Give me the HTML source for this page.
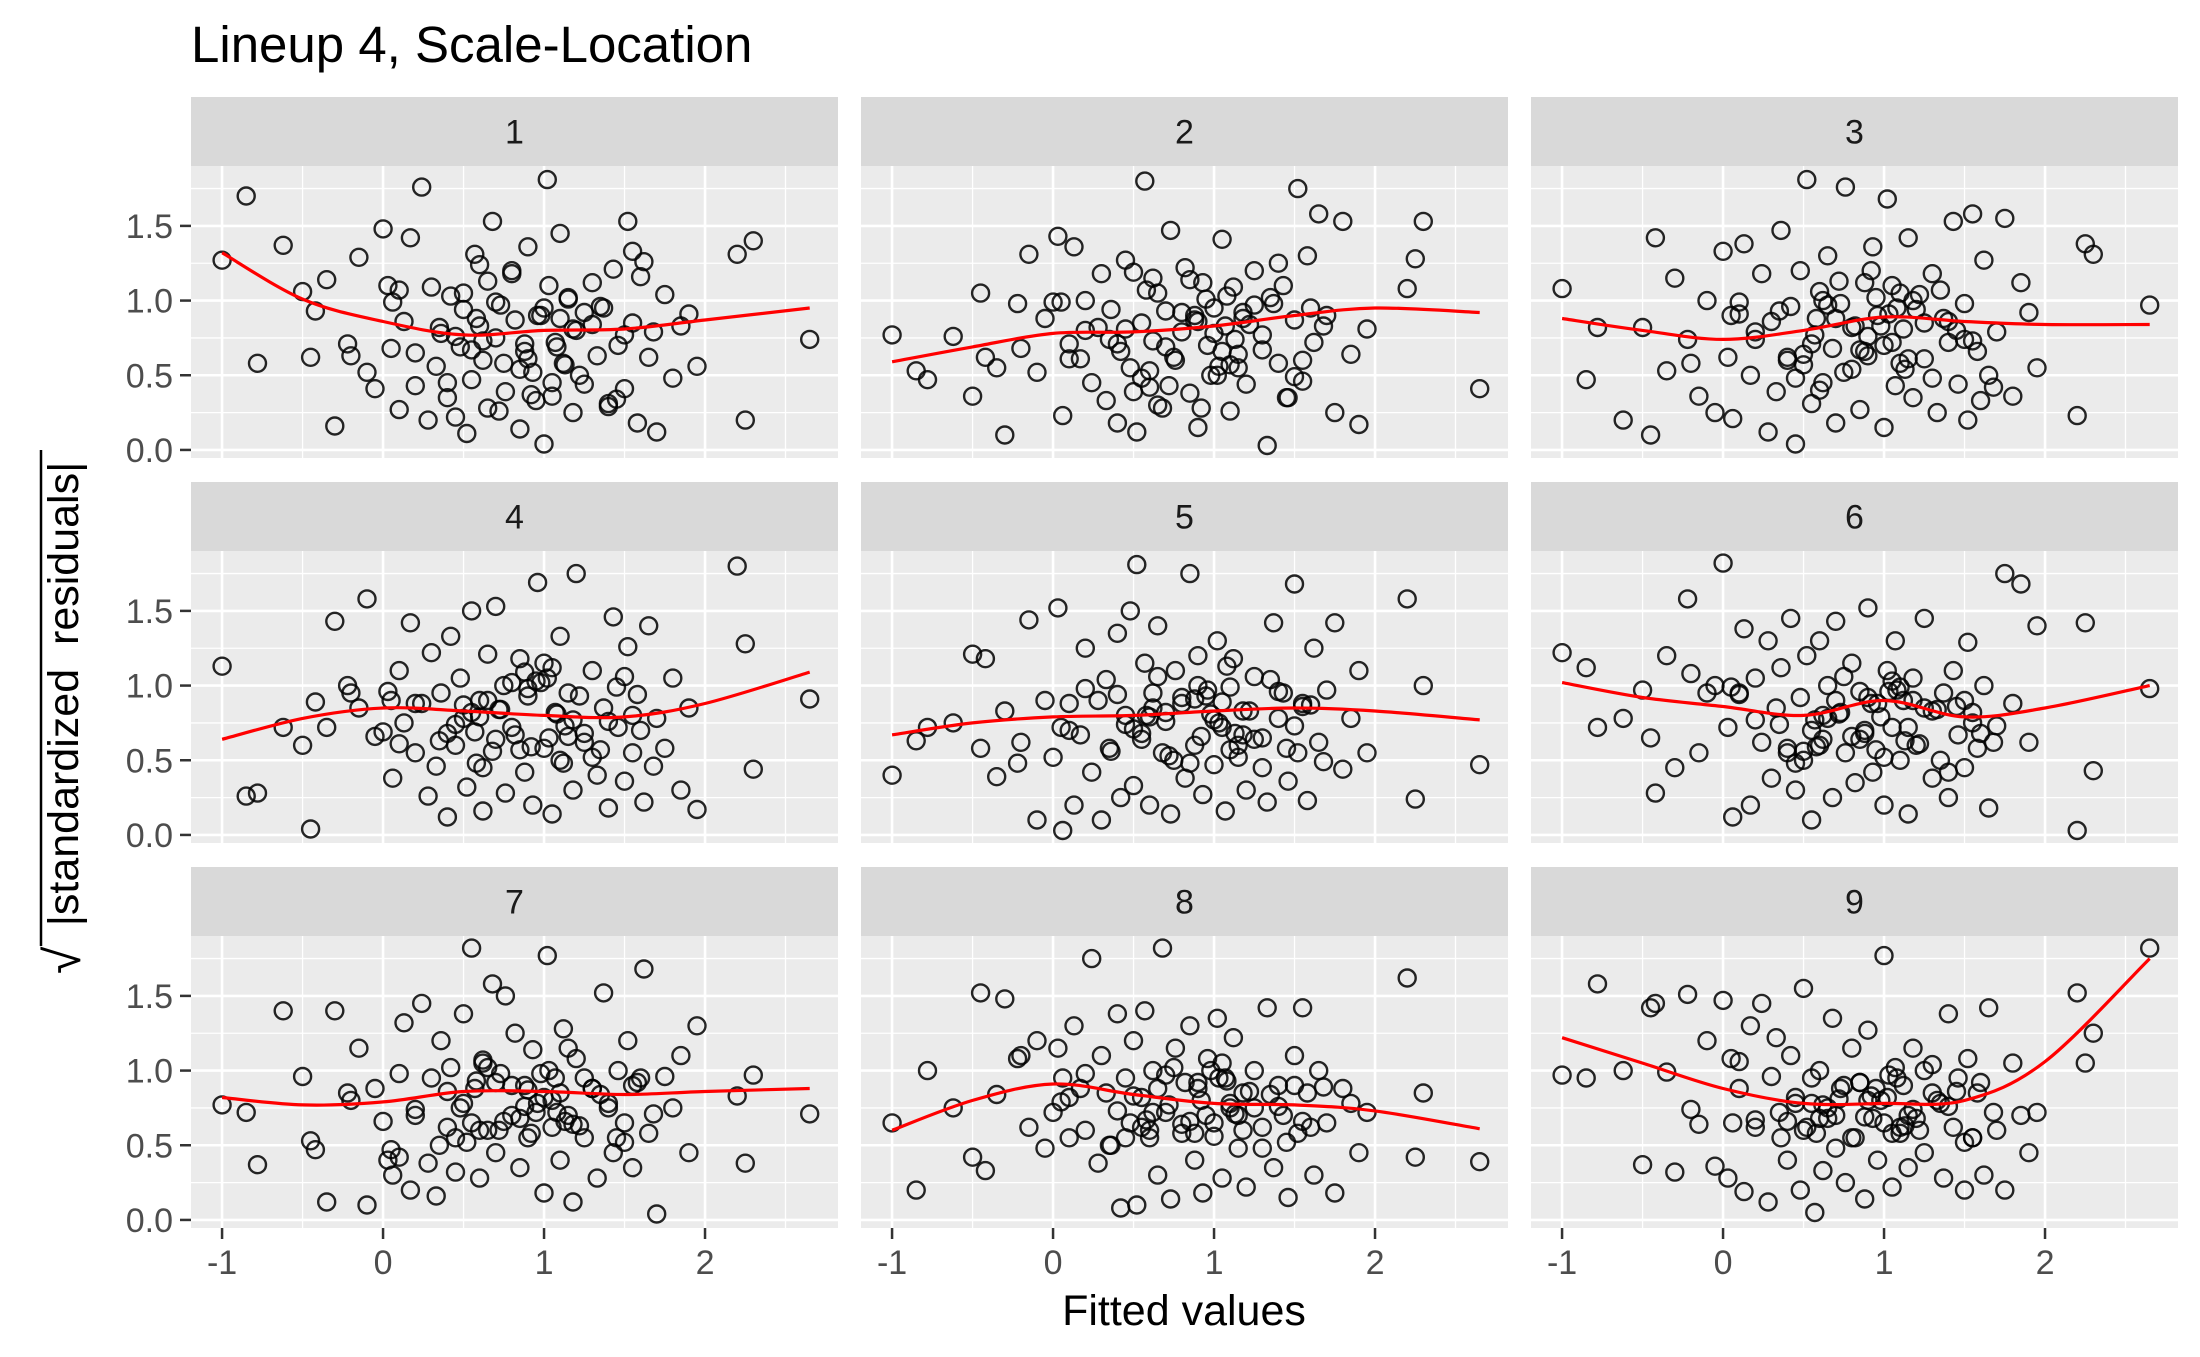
<!DOCTYPE html>
<html><head><meta charset="utf-8"><title>Lineup 4, Scale-Location</title>
<style>
html,body{margin:0;padding:0;background:#fff;}
svg{display:block;font-family:"Liberation Sans",Arial,sans-serif;}
</style></head>
<body>
<svg id="chart" width="2200" height="1357" viewBox="0 0 2200 1357" xmlns="http://www.w3.org/2000/svg">
<text x="191" y="62" font-size="51" fill="#000">Lineup 4, Scale-Location</text>
<g transform="translate(78,690) rotate(-90)">
<text x="-284" y="2" font-size="50" fill="#000">√</text>
<line x1="-256" y1="-37" x2="240" y2="-37" stroke="#000" stroke-width="2.5"/>
<text x="-4" y="0" font-size="43" fill="#000" text-anchor="middle" xml:space="preserve">|standardized  residuals|</text>
</g>
<text x="1184" y="1325" font-size="43" fill="#000" text-anchor="middle">Fitted values</text>
<g id="panels"></g>
</svg>
<script>
// shared fitted values (x)
const fitted = [-1.0,2.65,-0.85,-0.78,-0.62,-0.5,-0.45,-0.42,-0.35,-0.3,-0.22,-0.15,-0.1,-0.05,0.0,0.03,0.06,0.1,0.13,0.17,0.2,0.24,0.28,0.3,0.33,0.36,0.4,0.42,0.45,0.48,0.5,0.52,0.55,0.57,0.6,0.62,0.65,0.68,0.7,0.73,0.76,0.8,0.82,0.85,0.88,0.9,0.93,0.96,1.0,1.02,1.05,1.07,1.1,1.12,1.15,1.18,1.2,1.25,1.3,1.33,1.37,1.4,1.43,1.46,1.5,1.52,1.55,1.58,1.62,1.65,1.7,1.75,1.8,1.85,1.9,1.95,2.2,2.25,2.3,0.55,0.7,0.95,1.1,0.45,0.65,0.85,1.05,1.25,0.6,0.9,0.35,0.5,0.62,0.75,0.8,0.92,1.0,1.08,1.15,1.22,1.3,1.4,1.5,1.6,0.2,0.1,-0.2,0.58,0.72,0.88,1.03,1.13,1.35,1.45,1.55,1.68,0.05,0.4,0.98,1.18];
// sqrt|standardized residuals| per panel
const resid1 = [1.27,0.74,1.7,0.58,1.37,1.06,0.62,0.93,1.14,0.16,0.71,1.29,0.52,0.41,1.48,1.1,0.99,0.27,0.86,1.42,0.65,1.76,0.2,1.09,0.56,0.78,0.35,1.03,0.22,0.69,0.94,0.11,0.47,1.31,0.83,0.6,0.28,1.53,0.75,0.97,0.39,1.18,0.87,0.14,0.66,1.36,0.52,0.9,0.04,1.81,0.36,0.72,1.45,0.58,1.02,0.25,0.8,0.44,1.12,0.63,0.95,0.31,1.21,0.7,0.41,1.53,0.85,0.18,1.26,0.62,0.12,1.04,0.48,0.83,0.91,0.56,1.31,0.2,1.4,0.67,0.99,0.33,0.88,0.76,1.13,0.54,0.45,0.92,1.24,0.61,0.82,1.05,0.73,0.58,1.2,0.37,0.95,0.69,1.01,0.5,0.84,0.29,0.77,1.16,0.43,1.07,0.63,0.88,0.26,0.71,1.1,0.57,0.96,0.34,1.33,0.79,0.68,0.45,0.9,0.81];
const resid2 = [0.77,0.41,0.53,0.47,0.76,0.36,1.05,0.62,0.55,0.1,0.98,1.31,0.52,0.88,0.99,1.43,0.23,0.71,1.36,0.61,1.0,0.45,0.82,1.18,0.33,0.94,0.18,0.66,1.27,0.55,1.19,0.12,0.85,1.8,0.42,0.73,1.05,0.28,0.93,1.47,0.6,0.79,1.22,0.38,0.87,0.15,1.12,0.7,0.95,0.5,1.41,0.83,0.26,1.09,0.64,0.92,0.44,1.2,0.77,0.03,0.98,0.58,1.1,0.35,0.87,1.75,0.46,1.3,0.72,1.58,0.9,0.25,1.53,0.64,0.17,0.81,1.08,1.28,1.53,0.48,0.69,1.01,0.57,0.81,0.3,1.14,0.66,0.97,0.53,0.86,0.74,0.39,1.15,0.62,0.92,0.28,0.78,1.03,0.55,0.84,0.67,1.25,0.49,0.95,0.8,0.61,0.68,1.07,0.43,0.9,0.56,0.74,1.02,0.35,0.6,0.83,0.99,0.71,0.5,0.88];
const resid3 = [1.08,0.97,0.47,0.82,0.2,0.82,0.1,1.42,0.53,1.15,0.74,0.36,1.0,0.25,1.33,0.62,0.21,0.91,1.38,0.5,0.74,1.18,0.12,0.86,0.39,1.47,0.62,0.96,0.04,1.2,0.57,1.81,0.31,0.77,1.06,0.45,1.3,0.68,0.18,0.98,1.76,0.54,0.83,0.27,1.12,0.63,1.36,0.9,0.15,1.68,0.72,0.43,1.05,0.81,1.42,0.35,0.94,0.61,1.18,0.25,0.88,0.72,1.53,0.44,0.98,0.2,1.58,0.66,1.27,0.5,0.79,1.55,0.36,1.12,0.92,0.55,0.23,1.38,1.31,0.71,0.88,1.02,0.58,0.48,0.97,0.67,1.1,0.85,0.4,0.76,0.93,0.64,1.0,0.52,0.82,1.2,0.7,0.95,0.61,1.04,0.48,0.86,0.74,0.33,0.79,0.99,0.58,0.88,1.13,0.66,0.91,0.54,1.07,0.8,0.73,0.42,0.9,0.6,0.83,1.0];
const resid4 = [1.13,0.91,0.26,0.28,0.72,0.6,0.04,0.89,0.72,1.43,1.0,0.85,1.58,0.66,0.69,0.96,0.38,1.1,0.75,1.42,0.55,0.88,0.26,1.22,0.46,0.95,0.12,1.33,0.6,1.05,0.78,0.32,1.5,0.69,0.9,0.16,1.21,0.56,1.53,0.84,0.28,1.02,0.67,1.18,0.42,0.93,0.2,1.69,0.58,1.05,0.14,0.82,1.33,0.48,0.95,0.3,1.75,0.62,1.1,0.4,0.85,0.18,1.46,0.72,0.36,1.26,0.55,0.94,0.22,1.4,0.78,0.58,1.05,0.3,0.85,0.17,1.8,1.28,0.44,0.82,0.64,1.03,0.5,0.74,0.9,0.57,1.12,0.68,0.79,0.98,0.63,0.87,0.45,1.0,0.72,0.59,1.15,0.81,0.66,0.93,0.52,0.76,1.06,0.7,0.88,0.61,0.95,0.48,0.84,1.09,0.65,0.73,0.57,0.99,0.8,0.46,0.9,0.68,1.02,0.77];
const resid5 = [0.4,0.47,0.63,0.72,0.75,1.21,0.58,1.18,0.39,0.83,0.48,1.44,0.1,0.9,0.52,1.52,0.03,0.88,0.2,0.67,1.25,0.42,0.9,0.1,1.04,0.56,1.35,0.25,0.8,1.5,0.33,1.81,0.64,1.15,0.2,0.95,1.4,0.55,0.76,0.14,1.1,0.88,0.38,1.75,0.6,1.2,0.27,0.97,0.47,1.3,0.72,0.16,0.99,1.18,0.52,0.83,0.3,1.06,0.65,0.22,1.42,0.78,0.95,0.36,1.68,0.55,0.88,0.23,1.25,0.62,0.97,1.42,0.44,0.78,1.1,0.55,1.58,0.24,1.0,0.68,0.82,0.93,0.57,0.74,1.06,0.48,0.89,0.64,0.79,1.0,0.58,0.71,0.85,0.5,0.92,0.66,0.77,1.13,0.6,0.83,0.45,0.96,0.73,0.87,0.98,0.7,0.62,0.8,0.53,0.91,0.75,0.68,1.04,0.58,0.86,0.49,0.72,0.94,0.81,0.67];
const resid6 = [1.22,0.98,1.12,0.72,0.78,0.97,0.65,0.28,1.2,0.45,1.58,0.55,0.95,1.0,1.82,0.72,0.12,0.95,1.38,0.2,1.05,0.62,1.3,0.38,0.85,1.12,0.58,1.45,0.3,0.92,0.5,1.2,0.1,0.77,1.3,0.64,1.0,0.25,1.43,0.82,0.55,1.15,0.35,0.96,0.68,1.52,0.42,0.88,0.2,1.1,0.72,1.3,0.5,0.9,0.14,1.05,0.6,1.45,0.38,0.84,0.95,0.25,1.1,0.67,0.45,1.29,0.82,0.58,1.0,0.18,0.73,1.75,0.88,1.68,0.62,1.4,0.03,1.42,0.43,0.7,0.9,0.57,0.99,0.48,0.78,0.64,1.03,0.85,0.6,0.92,0.74,0.56,0.8,1.06,0.66,0.88,0.52,0.97,0.72,0.61,0.83,0.42,0.9,0.68,0.77,0.94,1.08,0.59,0.81,0.7,0.96,0.63,0.5,0.86,0.75,0.62,0.99,0.55,0.79,0.9];
const resid7 = [0.77,0.71,0.72,0.37,1.4,0.96,0.53,0.47,0.12,1.4,0.85,1.15,0.1,0.88,0.66,0.4,0.3,0.98,1.32,0.2,0.74,1.45,0.38,0.95,0.16,1.2,0.62,1.02,0.32,0.75,1.38,0.52,1.82,0.88,0.28,1.05,0.6,1.58,0.45,0.98,1.5,0.7,1.25,0.35,0.9,0.55,1.14,0.78,0.18,1.77,0.62,0.95,0.4,1.28,0.7,0.12,1.08,0.55,0.88,0.28,1.52,0.78,0.45,1.0,0.65,1.2,0.35,0.92,1.68,0.58,0.04,0.96,0.75,1.1,0.45,1.3,0.83,0.38,0.97,0.65,0.92,0.72,0.85,0.55,1.02,0.68,0.8,0.95,0.6,0.87,0.5,0.78,1.07,0.66,0.9,0.58,0.82,0.72,1.15,0.63,0.88,0.75,0.52,0.95,0.7,0.42,0.8,0.93,0.6,0.76,1.0,0.66,0.84,0.55,0.9,0.71,0.47,0.86,0.98,0.64];
const resid8 = [0.65,0.39,0.2,1.0,0.75,0.42,1.52,0.33,0.84,1.48,1.08,0.62,1.2,0.48,0.72,1.15,0.95,0.55,1.3,0.88,0.6,1.75,0.38,1.1,0.85,0.5,1.38,0.08,0.95,0.65,1.2,0.1,0.82,1.4,0.55,1.0,0.3,1.82,0.72,0.14,1.15,0.58,0.92,1.3,0.4,0.88,0.18,1.08,0.65,1.35,0.28,0.95,0.75,1.22,0.48,0.85,0.22,1.0,0.62,1.42,0.35,0.9,0.7,0.15,1.1,0.58,1.42,0.85,0.3,1.0,0.65,0.18,0.88,0.78,0.45,0.72,1.62,0.42,0.85,0.62,0.97,0.7,0.78,0.55,0.88,0.66,1.05,0.75,0.6,0.92,0.5,0.83,0.72,1.02,0.64,0.8,0.56,0.93,0.7,0.86,0.48,0.76,0.9,0.62,0.98,0.82,1.1,0.67,0.77,0.58,0.95,0.71,0.84,0.52,0.66,0.89,0.79,0.73,1.0,0.6];
const resid9 = [0.97,1.82,0.95,1.58,1.0,0.37,1.42,1.45,0.99,0.32,1.51,0.64,1.2,0.36,1.47,0.28,0.65,1.06,0.19,1.3,0.62,1.45,0.12,0.96,1.22,0.55,0.4,1.1,0.78,0.2,1.55,0.62,0.95,0.05,1.0,0.33,0.68,1.35,0.48,0.88,0.25,1.15,0.55,0.92,0.14,1.27,0.68,0.4,1.77,0.82,0.22,1.02,0.58,0.9,0.35,1.15,0.68,0.45,1.04,0.8,0.28,1.38,0.62,0.95,0.2,1.08,0.55,0.85,0.3,1.42,0.6,0.2,1.05,0.7,0.45,0.72,1.52,1.05,1.25,0.78,0.7,0.88,0.62,0.82,0.75,0.92,0.58,1.0,0.68,0.8,0.72,0.6,0.77,0.9,0.55,0.83,0.65,0.95,0.7,0.6,0.85,0.76,0.52,0.92,0.67,0.88,0.74,0.58,0.81,0.69,0.97,0.63,0.78,0.86,0.55,0.72,1.08,0.66,0.8,0.74];
const residSets = [resid1,resid2,resid3,resid4,resid5,resid6,resid7,resid8,resid9];
// loess smooth readings
const smoothX = [-1,-0.5,0,0.5,1,1.5,2,2.65];
const smooth1 = [1.32,1.01,0.86,0.77,0.80,0.81,0.87,0.95];
const smooth2 = [0.59,0.69,0.78,0.79,0.83,0.90,0.95,0.92];
const smooth3 = [0.88,0.80,0.74,0.80,0.89,0.86,0.84,0.84];
const smooth4 = [0.64,0.78,0.85,0.83,0.80,0.79,0.88,1.09];
const smooth5 = [0.67,0.75,0.79,0.80,0.83,0.85,0.83,0.77];
const smooth6 = [1.02,0.92,0.86,0.80,0.90,0.79,0.85,1.00];
const smooth7 = [0.82,0.77,0.79,0.86,0.86,0.84,0.86,0.88];
const smooth8 = [0.60,0.80,0.91,0.84,0.78,0.77,0.73,0.61];
const smooth9 = [1.22,1.05,0.88,0.78,0.78,0.80,1.06,1.75];
const smoothSets = [smooth1,smooth2,smooth3,smooth4,smooth5,smooth6,smooth7,smooth8,smooth9];
const panelLabels = ["1","2","3","4","5","6","7","8","9"];
const yTicks = [0,0.5,1.0,1.5];
const yTickLabels = ["0.0","0.5","1.0","1.5"];
const yMinor = [0.25,0.75,1.25,1.75];
const xTicks = [-1,0,1,2];
const xTickLabels = ["-1","0","1","2"];
const xMinor = [-0.5,0.5,1.5,2.5];

const NS="http://www.w3.org/2000/svg";
const root=document.getElementById('panels');
const colX=[191,861,1531], PW=647;
const rowY=[97,482,867], SH=69, PH=292;
const XMIN=-1.193, XMAX=2.826, YMIN=-0.054, YMAX=1.901;
function mk(tag,attrs,parent){const e=document.createElementNS(NS,tag);for(const k in attrs)e.setAttribute(k,attrs[k]);parent.appendChild(e);return e;}
function smoothPath(pts){
  let d='M'+pts[0][0].toFixed(1)+','+pts[0][1].toFixed(1);
  for(let i=0;i<pts.length-1;i++){
    const p0=pts[Math.max(i-1,0)],p1=pts[i],p2=pts[i+1],p3=pts[Math.min(i+2,pts.length-1)];
    const c1=[p1[0]+(p2[0]-p0[0])/6,p1[1]+(p2[1]-p0[1])/6];
    const c2=[p2[0]-(p3[0]-p1[0])/6,p2[1]-(p3[1]-p1[1])/6];
    d+=' C'+c1[0].toFixed(1)+','+c1[1].toFixed(1)+' '+c2[0].toFixed(1)+','+c2[1].toFixed(1)+' '+p2[0].toFixed(1)+','+p2[1].toFixed(1);
  }
  return d;
}
for(let p=0;p<9;p++){
  const c=p%3,r=Math.floor(p/3);
  const x0=colX[c], sy=rowY[r], py=sy+SH;
  const sx=v=>x0+(v-XMIN)/(XMAX-XMIN)*PW;
  const syf=v=>py+PH-(v-YMIN)/(YMAX-YMIN)*PH;
  const g=mk('g',{},root);
  
  
  const strip=mk('rect',{x:x0,y:sy,width:PW,height:SH,fill:'#d9d9d9'},g);
  
  
  const st=mk('text',{x:x0+PW/2,y:sy+SH/2+12,'font-size':34,fill:'#1a1a1a','text-anchor':'middle'},g);
  st.textContent=panelLabels[p];
  
  
  const bg=mk('rect',{x:x0,y:py,width:PW,height:PH,fill:'#ebebeb'},g);
  
  
  const cl='clip'+p;
  const cp=mk('clipPath',{id:cl},g);mk('rect',{x:x0,y:py,width:PW,height:PH},cp);
  yMinor.forEach(v=>{const l=mk('line',{x1:x0,x2:x0+PW,y1:syf(v),y2:syf(v),stroke:'#fff','stroke-width':1.3},g);});
  xMinor.forEach(v=>{const l=mk('line',{x1:sx(v),x2:sx(v),y1:py,y2:py+PH,stroke:'#fff','stroke-width':1.3},g);});
  yTicks.forEach(v=>{const l=mk('line',{x1:x0,x2:x0+PW,y1:syf(v),y2:syf(v),stroke:'#fff','stroke-width':2.6},g);});
  xTicks.forEach(v=>{const l=mk('line',{x1:sx(v),x2:sx(v),y1:py,y2:py+PH,stroke:'#fff','stroke-width':2.6},g);});
  const pg=mk('g',{'clip-path':'url(#'+cl+')'},g);
  
  
  const ys=residSets[p], n=Math.min(fitted.length,ys.length);
  for(let i=0;i<n;i++){
    const pt=mk('circle',{cx:sx(fitted[i]).toFixed(1),cy:syf(ys[i]).toFixed(1),r:8.5,fill:'none',stroke:'#000','stroke-opacity':0.85,'stroke-width':2.4},pg);
    
    
  }
  const sm=smoothSets[p];
  const pts=smoothX.map((v,i)=>[sx(v),syf(sm[i])]);
  const path=mk('path',{d:smoothPath(pts),fill:'none',stroke:'#ff0000','stroke-width':3.2,'clip-path':'url(#'+cl+')'},g);
  
  
  if(c===0){
    yTicks.forEach((v,i)=>{
      const tk=mk('line',{x1:x0-11,x2:x0,y1:syf(v),y2:syf(v),stroke:'#333','stroke-width':2.5},g);
      
      
      const t=mk('text',{x:x0-18,y:syf(v)+12,'font-size':34,fill:'#4d4d4d','text-anchor':'end'},g);
      t.textContent=yTickLabels[i];
      
      
    });
  }
  if(r===2){
    xTicks.forEach((v,i)=>{
      const tk=mk('line',{x1:sx(v),x2:sx(v),y1:py+PH,y2:py+PH+11,stroke:'#333','stroke-width':2.5},g);
      
      
      const t=mk('text',{x:sx(v),y:py+PH+46,'font-size':34,fill:'#4d4d4d','text-anchor':'middle'},g);
      t.textContent=xTickLabels[i];
      
      
    });
  }
}
</script>
</body></html>
